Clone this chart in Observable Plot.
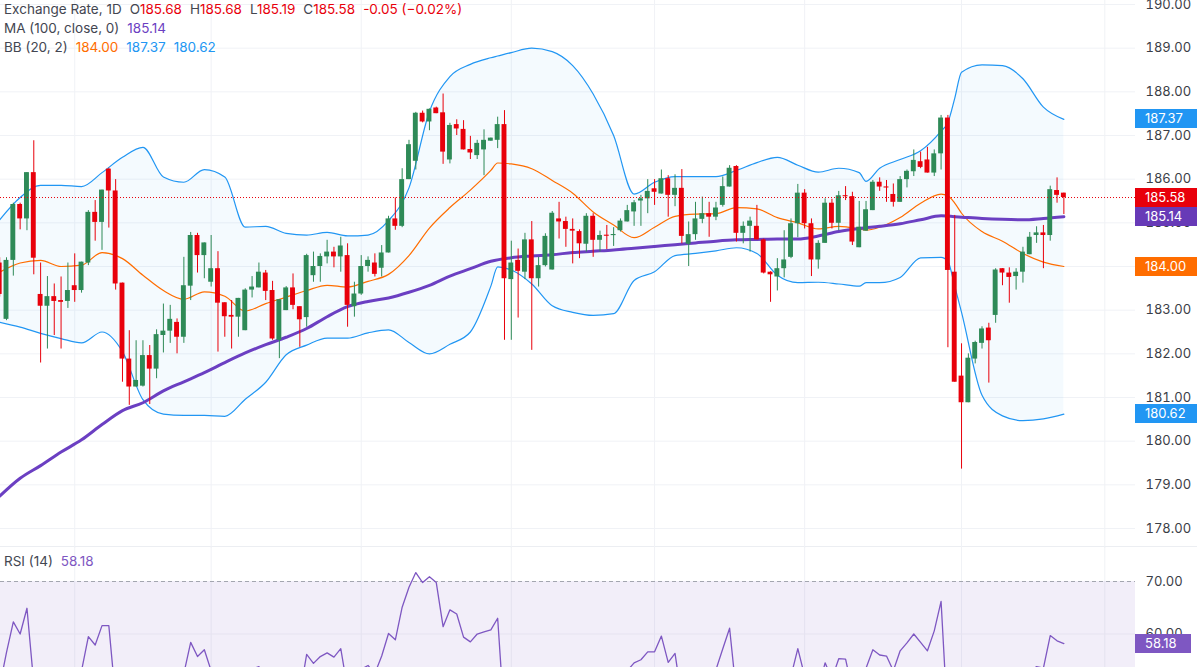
<!DOCTYPE html>
<html><head><meta charset="utf-8">
<script src="https://cdn.jsdelivr.net/npm/d3@7"></script>
<script src="https://cdn.jsdelivr.net/npm/@observablehq/plot@0.6"></script>
<style>
body{margin:0;background:#fff;font-family:Inter,"Noto Sans",sans-serif;}
#wrap{position:relative;width:1197px;height:667px;overflow:hidden;background:#fff;}
.pane{position:absolute;left:0;}
.legend{position:absolute;left:4px;font-size:13.5px;color:#434651;white-space:nowrap;line-height:19px;}
.legend span{margin-right:8px;}
.tag{position:absolute;left:1135px;width:62px;height:19px;line-height:19px;color:#fff;font-size:13px;padding-left:10px;box-sizing:border-box;}
.sep{position:absolute;left:0;top:546px;width:1197px;height:1px;background:#eceef2;}
</style></head><body><div id="wrap"></div>
<script>
// ---------- data ----------
const openP = [184.08,182.79,184.14,185.42,185.09,186.15,183.36,183.09,183.31,183.22,183.20,183.56,183.45,184.08,185.24,185.01,186.23,185.73,183.62,181.88,181.24,181.26,181.96,181.65,182.42,182.52,182.72,182.38,183.55,184.71,184.25,183.64,183.95,183.17,182.88,182.84,182.53,183.46,183.51,183.85,183.45,182.31,182.99,183.51,183.08,182.83,183.79,184.00,184.22,184.33,184.22,184.25,183.08,183.37,184.00,184.08,183.96,184.31,185.09,184.92,185.99,186.41,187.51,187.31,187.63,187.52,186.44,187.25,187.14,186.68,186.54,186.67,186.87,186.89,187.25,183.70,184.14,183.87,184.61,183.72,184.02,183.92,185.09,185.03,184.85,184.80,184.51,185.15,184.60,184.71,184.71,184.82,185.02,185.25,185.50,185.55,185.78,185.66,186.01,185.63,185.79,184.51,184.73,185.08,185.21,185.13,185.40,185.82,186.29,184.76,184.92,184.92,184.61,183.87,183.76,183.95,184.21,184.98,185.68,184.98,184.15,184.53,185.45,184.99,185.62,185.60,184.43,184.81,185.28,185.93,185.82,185.65,185.47,185.99,186.17,186.40,186.44,186.14,186.58,187.40,183.87,181.49,180.88,181.88,182.24,182.59,182.88,183.95,183.85,183.77,183.87,184.27,184.71,184.77,184.71,185.74,185.68];
const highP = [184.20,184.20,185.45,185.45,186.15,186.88,184.08,183.77,183.60,183.76,184.08,184.29,184.10,185.28,185.51,185.75,186.25,185.99,183.62,182.53,182.30,182.30,182.19,182.55,183.14,183.11,182.80,184.21,184.78,184.76,184.54,184.71,184.34,183.17,183.22,183.27,183.49,183.77,184.08,183.91,183.66,183.24,183.54,183.83,183.08,184.28,184.33,184.29,184.60,184.44,184.67,184.52,183.64,184.25,184.22,184.29,184.48,185.15,185.57,186.24,186.89,187.53,187.56,187.61,187.65,187.95,187.28,187.36,187.34,186.98,186.89,187.13,186.94,187.42,187.57,184.58,184.40,184.76,185.03,184.21,184.75,185.26,185.47,185.13,185.09,184.84,185.21,185.21,184.81,184.94,184.89,185.09,185.40,185.51,185.63,185.99,185.99,186.21,186.08,186.10,186.22,185.02,185.47,185.59,185.47,185.47,186.05,186.31,186.31,185.02,185.13,185.40,184.63,183.88,184.18,184.82,185.09,185.88,185.76,185.09,184.59,185.55,185.54,185.72,185.83,185.70,185.49,185.49,185.97,186.03,185.97,185.89,186.06,186.21,186.67,186.62,186.73,186.67,187.46,187.46,185.17,182.23,182.00,182.29,182.62,182.70,183.95,183.95,183.97,183.95,184.44,184.78,184.91,184.94,185.84,186.03,185.68];
const lowP = [183.30,182.76,183.78,184.84,184.82,183.81,181.79,182.11,182.42,182.11,183.04,183.18,183.39,184.02,184.58,184.37,184.88,183.46,181.35,180.82,181.24,181.24,180.84,181.43,182.02,182.24,182.00,182.24,183.22,183.85,183.72,183.53,182.04,182.38,182.11,182.38,182.53,183.28,183.51,183.22,182.31,181.89,182.99,183.01,182.15,182.61,183.64,183.64,184.06,183.97,183.87,182.61,182.84,183.34,183.87,183.76,183.76,184.31,184.83,184.89,185.99,186.21,187.29,187.11,187.50,186.34,186.35,187.00,186.67,186.45,186.45,186.08,186.87,186.70,182.31,182.31,182.82,183.70,182.08,183.53,183.99,183.92,184.63,184.44,184.06,184.18,184.33,184.21,184.33,184.39,184.46,184.79,185.02,184.92,184.92,185.21,185.40,185.66,185.13,185.37,184.52,184.00,184.60,184.98,184.67,185.05,185.36,185.82,184.56,184.52,184.33,184.61,183.83,183.18,183.44,183.74,184.18,184.66,184.86,183.77,183.94,184.53,184.86,184.82,185.51,184.48,184.43,184.81,185.28,185.72,185.47,185.36,185.47,185.80,186.06,186.24,186.14,186.06,186.21,182.14,181.35,179.36,180.88,181.77,182.11,181.33,182.70,183.56,183.16,183.46,183.62,184.27,184.53,183.95,184.58,185.45,185.19];
const closeP = [183.36,184.14,185.42,185.09,186.15,184.19,183.09,183.31,183.20,183.18,183.45,183.45,184.10,185.24,185.01,185.75,185.73,183.60,181.88,181.24,181.39,181.96,181.65,182.44,182.52,182.79,182.38,183.56,184.71,184.25,184.54,183.95,183.16,182.85,182.84,183.27,183.46,183.53,183.87,183.43,182.34,183.24,183.51,183.11,182.78,184.25,184.00,184.23,184.33,184.22,184.47,183.11,183.37,184.00,184.14,183.82,184.31,185.09,184.92,185.99,186.79,187.51,187.31,187.60,187.50,186.62,187.23,187.15,186.67,186.60,186.82,186.89,186.94,187.25,183.72,184.08,183.89,184.61,183.72,184.02,184.69,185.22,185.02,184.85,184.81,184.52,185.15,184.60,184.71,184.70,184.73,185.04,185.28,185.46,185.55,185.72,185.70,186.01,185.63,185.79,184.69,184.73,185.09,185.21,185.13,185.34,185.83,186.25,184.76,184.92,185.04,184.61,183.85,183.81,183.95,184.15,184.98,185.68,184.98,184.15,184.53,185.45,184.99,185.62,185.60,184.56,184.90,185.30,185.93,185.82,185.80,185.47,185.99,186.18,186.43,186.27,186.14,186.58,187.40,183.91,181.35,180.88,181.90,182.26,182.57,182.30,183.92,183.85,183.75,183.87,184.33,184.67,184.77,184.71,185.76,185.63,185.58];
const changeAbs = -0.05;   // as printed in the header
const changePct = -0.02;

// Bollinger Bands (20, 2) read at these bar indexes
const bbIdx   = [0,3,6,9,12,15,18,21,24,27,30,33,36,39,42,45,48,51,54,57,60,63,66,69,72,73,75,78,81,84,87,90,93,96,99,102,105,108,111,114,117,120,123,126,127,129,132,135,138,139,140,141,144,147,150,153,156];
const bbUpper = [185.07,185.58,185.86,185.86,185.83,186.15,186.50,186.73,186.05,185.93,186.22,186.05,184.90,184.92,184.76,184.72,184.78,184.70,184.72,185.05,185.80,187.55,188.35,188.63,188.78,188.82,188.90,189.00,188.92,188.60,187.95,187.00,185.66,185.93,186.06,186.06,186.06,186.20,186.38,186.50,186.32,186.16,186.25,186.15,185.95,186.25,186.45,186.65,187.10,187.30,187.85,188.45,188.62,188.60,188.30,187.65,187.37];
const bbMid   = [183.87,184.08,184.14,184.00,184.03,184.32,184.18,183.80,183.45,183.25,183.42,183.32,182.98,183.15,183.30,183.45,183.57,183.53,183.66,183.82,184.25,184.88,185.35,185.75,186.20,186.37,186.35,186.24,185.97,185.68,185.25,184.95,184.66,184.90,185.15,185.20,185.21,185.35,185.32,185.12,185.00,184.86,184.92,184.86,184.83,184.90,185.12,185.45,185.66,185.62,185.45,185.22,184.80,184.58,184.30,184.10,184.00];
const bbLower = [182.72,182.61,182.47,182.35,182.25,182.50,182.05,180.95,180.62,180.59,180.59,180.57,180.96,181.35,181.98,182.20,182.36,182.36,182.48,182.55,182.26,182.00,182.22,182.50,183.55,183.99,183.92,183.60,183.10,182.95,182.88,182.92,183.68,183.88,184.25,184.30,184.36,184.43,184.30,183.80,183.63,183.64,183.60,183.55,183.63,183.63,183.75,184.20,184.21,184.12,183.55,182.95,181.05,180.58,180.47,180.51,180.62];

// MA (100, close)
const maIdx  = [0,3,6,9,12,15,18,21,24,27,30,33,36,39,42,45,48,51,54,57,60,63,66,69,72,75,78,81,84,87,90,93,96,99,102,105,108,111,114,117,120,123,126,129,132,135,138,141,144,147,150,153,156];
const maVals = [178.74,179.15,179.44,179.75,180.03,180.38,180.70,180.88,181.15,181.36,181.57,181.80,182.02,182.21,182.38,182.58,182.85,183.08,183.20,183.28,183.41,183.57,183.78,183.95,184.12,184.20,184.24,184.27,184.32,184.35,184.38,184.42,184.46,184.50,184.54,184.58,184.61,184.62,184.63,184.63,184.70,184.80,184.87,184.92,184.98,185.07,185.16,185.13,185.10,185.08,185.07,185.10,185.14];

// RSI (14), one value per bar
const rsiVals = [50,56.5,62.3,60.0,64.9,50.5,48.5,49.5,48.8,48.6,50.0,49.5,53.0,59.5,57.9,61.6,61.6,47.5,39.5,36.5,37.5,41,39.5,43.5,44,45.5,44,52.5,58.4,55.7,57.0,53.0,48.5,46.8,46.6,49,53.0,53.3,53.8,51.5,45.5,49.5,52,50,48.5,56.1,54.4,55.7,56.4,55.6,57.2,49.5,51,53.3,54.0,52.5,55.8,60.1,58.9,65.1,68.9,71.7,69.8,70.9,69.8,61.4,64.6,63.8,59.4,58.5,60.0,60.4,60.8,63.0,43.5,46,45,49,45,47,50,53,52.5,51.8,51.6,50.5,53.3,50.8,51.3,51.3,51.4,52.5,53.0,54.5,55.1,56.6,56.6,59.6,54.6,56.3,47.5,48.5,51.5,52.3,51.8,53.2,57.2,61.1,48.5,49.5,50.3,48.5,44.5,44.2,45.5,46.8,52.0,57.2,52.0,47.5,49.5,54.5,51.5,55.3,55.2,49.3,51.5,53.5,57.0,56.0,55.8,53.0,56.8,58.3,60.0,58.4,56.8,60.6,66.2,42.5,34.5,32.5,38,40.5,42.5,41.5,48.5,48,47.5,48,50.5,52.8,53.8,53.5,59.7,58.7,58.18];

const priceTicks = [178,179,180,181,182,183,184,185,186,187,188,189,190];
const rsiTicks = [60,70];
const monthGrid = [11,31,53,75,96,118,141,162];

// ---------- build ----------
const GREEN = "#2e8a57", RED = "#e8000b", BLUE = "#2196f3", ORANGE = "#ff6d00", PURPLE = "#6b3fc2", RSIC = "#7e57c2";
const FONT = "Inter, 'Noto Sans', sans-serif";
const XD = [0.12, 166.5];

const candles = openP.map((o, i) => {
  const c = closeP[i];
  let lo = Math.min(o, c), hi = Math.max(o, c);
  if (hi - lo < 0.025) { const m = (hi + lo) / 2; lo = m - 0.0125; hi = m + 0.0125; }
  return {i, o, c, h: highP[i], l: lowP[i], bl: lo, bh: hi, col: c >= o ? GREEN : RED};
});
const bb = bbIdx.map((i, k) => ({i, up: bbUpper[k], mid: bbMid[k], lo: bbLower[k]}));
const ma = maIdx.map((i, k) => ({i, v: maVals[k]}));
const rsi = rsiVals.map((v, i) => ({i, v}));
const last = closeP[closeP.length - 1];

const main = Plot.plot({
  width: 1197, height: 548,
  marginLeft: 0, marginRight: 62, marginTop: 0, marginBottom: 0,
  x: {domain: XD, axis: null},
  y: {domain: [177.542, 190.092], axis: null},
  style: {fontFamily: FONT, background: "transparent"},
  marks: [
    Plot.gridY(priceTicks, {stroke: "#f0f2f6", strokeOpacity: 1}),
    Plot.ruleX(monthGrid, {stroke: "#f0f2f6"}),
    Plot.areaY(bb, {x: "i", y1: "lo", y2: "up", fill: BLUE, fillOpacity: 0.05, curve: "monotone-x"}),
    Plot.line(bb, {x: "i", y: "up", stroke: BLUE, strokeWidth: 1.2, curve: "monotone-x"}),
    Plot.line(bb, {x: "i", y: "lo", stroke: BLUE, strokeWidth: 1.2, curve: "monotone-x"}),
    Plot.line(bb, {x: "i", y: "mid", stroke: ORANGE, strokeWidth: 1.2, curve: "monotone-x"}),
    Plot.line(ma, {x: "i", y: "v", stroke: PURPLE, strokeWidth: 3, curve: "monotone-x"}),
    Plot.ruleX(candles, {x: "i", y1: "l", y2: "h", stroke: "col", strokeWidth: 1}),
    Plot.rect(candles, {x1: d => d.i - 0.36, x2: d => d.i + 0.36, y1: "bl", y2: "bh", fill: "col"}),
    Plot.ruleY([last], {stroke: RED, strokeDasharray: "1,2", strokeWidth: 1}),
    Plot.axisY(priceTicks, {anchor: "right", label: null, tickSize: 0, tickPadding: 10, tickFormat: d => d.toFixed(2), fontSize: 13, fill: "#3b3e47"})
  ]
});

const rsiPlot = Plot.plot({
  width: 1197, height: 121,
  marginLeft: 0, marginRight: 62, marginTop: 0, marginBottom: 0,
  x: {domain: XD, axis: null},
  y: {domain: [53.62, 76.667], axis: null},
  style: {fontFamily: FONT, background: "transparent"},
  marks: [
    Plot.ruleX(monthGrid, {stroke: "#f0f2f6"}),
    Plot.rectY([0], {x1: XD[0], x2: XD[1], y1: 30, y2: 70, fill: RSIC, fillOpacity: 0.1, clip: true}),
    Plot.gridY([60], {stroke: "#e6e3f0", strokeOpacity: 1}),
    Plot.ruleY([70], {stroke: "#a3a6af", strokeDasharray: "4,3"}),
    Plot.line(rsi, {x: "i", y: "v", stroke: RSIC, strokeWidth: 1.3, clip: true}),
    Plot.axisY(rsiTicks, {anchor: "right", label: null, tickSize: 0, tickPadding: 10, tickFormat: d => d.toFixed(2), fontSize: 13, fill: "#3b3e47"})
  ]
});

const wrap = document.getElementById("wrap");
main.classList.add("pane"); main.style.top = "0px";
rsiPlot.classList.add("pane"); rsiPlot.style.top = "546px";
wrap.appendChild(main);
const sep = document.createElement("div"); sep.className = "sep"; wrap.appendChild(sep);
wrap.appendChild(rsiPlot);

function legend(top, html) {
  const d = document.createElement("div");
  d.className = "legend"; d.style.top = top + "px"; d.innerHTML = html; wrap.appendChild(d);
}
const o = openP.at(-1), h = highP.at(-1), l = lowP.at(-1), c = closeP.at(-1);
const pct = (changePct < 0 ? "−" : "+") + Math.abs(changePct).toFixed(2);
legend(0, `<span>Exchange Rate, 1D</span>O<span style="color:${RED}">${o.toFixed(2)}</span>H<span style="color:${RED}">${h.toFixed(2)}</span>L<span style="color:${RED}">${l.toFixed(2)}</span>C<span style="color:${RED}">${c.toFixed(2)}</span><span style="color:${RED}">${changeAbs.toFixed(2)} (${pct}%)</span>`);
legend(19, `<span>MA (100, close, 0)</span><span style="color:${PURPLE}">${maVals.at(-1).toFixed(2)}</span>`);
legend(38, `<span>BB (20, 2)</span><span style="color:${ORANGE}">${bbMid.at(-1).toFixed(2)}</span><span style="color:${BLUE}">${bbUpper.at(-1).toFixed(2)}</span><span style="color:${BLUE}">${bbLower.at(-1).toFixed(2)}</span>`);
legend(552, `<span>RSI (14)</span><span style="color:${RSIC}">${rsiVals.at(-1).toFixed(2)}</span>`);

const ys = main.scale("y"), yr = rsiPlot.scale("y");
function tag(top, v, bg, w) {
  const d = document.createElement("div");
  d.className = "tag"; d.style.top = (top - 9.5) + "px"; d.style.background = bg;
  if (w) d.style.width = w + "px";
  d.textContent = v.toFixed(2); wrap.appendChild(d);
}
tag(ys.apply(bbUpper.at(-1)), bbUpper.at(-1), BLUE);
tag(ys.apply(last), last, RED);
tag(ys.apply(maVals.at(-1)), maVals.at(-1), "#673ab7");
tag(ys.apply(bbMid.at(-1)), bbMid.at(-1), ORANGE);
tag(ys.apply(bbLower.at(-1)), bbLower.at(-1), BLUE);
tag(546 + yr.apply(rsiVals.at(-1)), rsiVals.at(-1), RSIC, 56);
</script>
</body></html>
